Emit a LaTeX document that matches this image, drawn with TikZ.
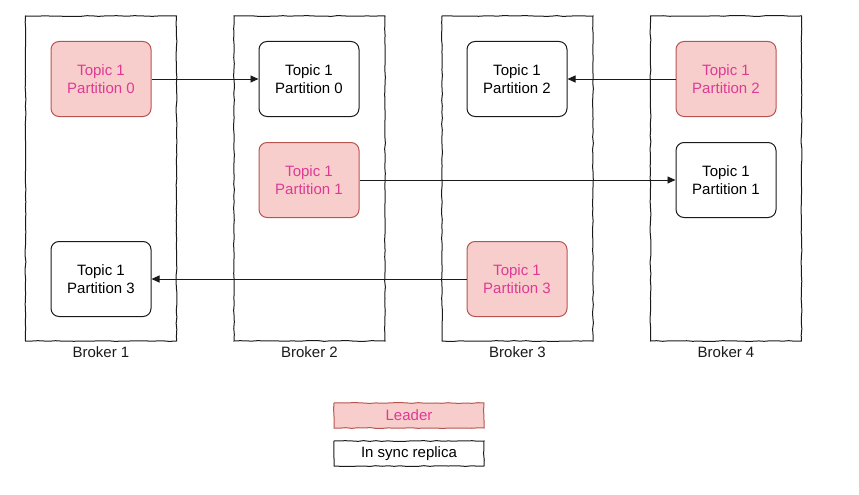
\documentclass[tikz,border=0pt]{standalone}
\usepackage{fontspec}
\setmainfont{Liberation Sans}
\usetikzlibrary{arrows.meta,decorations.pathmorphing}
\definecolor{leadfill}{HTML}{F8CECC}
\definecolor{leaddraw}{HTML}{B85450}
\definecolor{leadtext}{HTML}{DE3A95}
\definecolor{linegray}{HTML}{1A1A1A}
\tikzset{
  x=1pt,y=-1pt,
  sketch/.style={decorate,decoration={random steps,segment length=6pt,amplitude=0.4pt}},
  broker/.style={draw=linegray,line width=1pt,minimum width=151pt,minimum height=325pt,inner sep=0pt,sketch},
  part/.style={draw=linegray,line width=1pt,rounded corners=8pt,minimum width=100pt,minimum height=75pt,align=center,font=\fontsize{15}{17.5}\selectfont,inner sep=0pt},
  lead/.style={part,fill=leadfill,draw=leaddraw,text=leadtext},
  blabel/.style={font=\fontsize{15}{17}\selectfont,text=linegray,anchor=center},
  legend/.style={draw=linegray,line width=1pt,minimum width=150pt,minimum height=25pt,inner sep=0pt,font=\fontsize{15}{17}\selectfont,sketch},
  conn/.style={-{Triangle[length=8pt,width=7pt]},line width=0.9pt,draw=linegray}
}
\begin{document}
\begin{tikzpicture}
\useasboundingbox (0,0) rectangle (859,495);
% brokers
\node[broker] (b1) at (101,178.5) {};
\node[broker] (b2) at (309.5,178.5) {};
\node[broker] (b3) at (517.5,178.5) {};
\node[broker] (b4) at (726,178.5) {};
\node[blabel] (l1) at (101,352) {Broker 1};
\node[blabel] (l2) at (309.5,352) {Broker 2};
\node[blabel] (l3) at (517.5,352) {Broker 3};
\node[blabel] (l4) at (726,352) {Broker 4};
% partitions
\node[lead] (p0l) at (101,79) {Topic 1\\Partition 0};
\node[part] (p0r) at (309,79) {Topic 1\\Partition 0};
\node[lead] (p1l) at (309,180) {Topic 1\\Partition 1};
\node[part] (p2r) at (517,79) {Topic 1\\Partition 2};
\node[lead] (p2l) at (726,79) {Topic 1\\Partition 2};
\node[part] (p1r) at (726,180) {Topic 1\\Partition 1};
\node[part] (p3r) at (101,279) {Topic 1\\Partition 3};
\node[lead] (p3l) at (517,279) {Topic 1\\Partition 3};
% connectors
\draw[conn] (p0l) -- (p0r);
\draw[conn] (p2l) -- (p2r);
\draw[conn] (p1l) -- (p1r);
\draw[conn] (p3l) -- (p3r);
% legend
\node[legend,fill=leadfill,draw=leaddraw,text=leadtext] (lg1) at (409,415.5) {Leader};
\node[legend,text=black] (lg2) at (409,453.5) {In sync replica};
\end{tikzpicture}
\end{document}
